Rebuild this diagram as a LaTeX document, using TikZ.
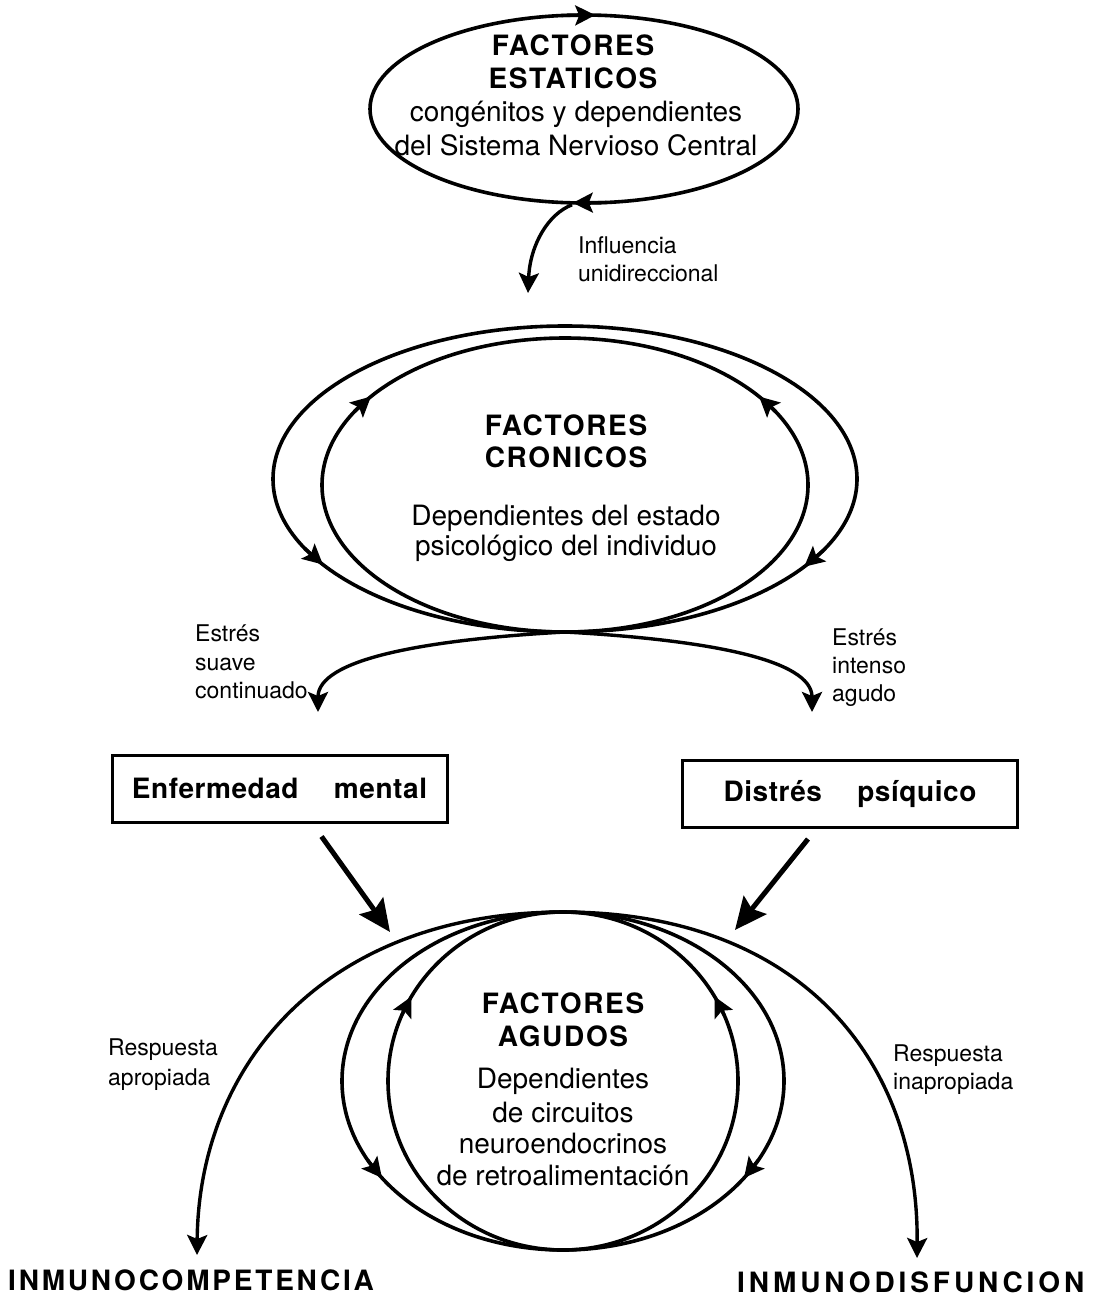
\documentclass[tikz,border=0pt]{standalone}
\usepackage{fontspec}
\setmainfont{TeX Gyre Heros}
\newfontfamily\capsfont{TeX Gyre Heros}[LetterSpace=6]
\newfontfamily\boxfont{TeX Gyre Heros}[LetterSpace=2]
\newfontfamily\widecaps{TeX Gyre Heros}[LetterSpace=10]
\newfontfamily\widercaps{TeX Gyre Heros}[LetterSpace=14]
\usetikzlibrary{arrows.meta,shapes.geometric}

% arrow head sitting on an ellipse (cx, cy, rx, ry, from angle, to angle)
\newcommand{\ellhead}[6]{%
  \draw[headed, line width=3.4pt] plot[domain=#5:#6, samples=2]
    ({#1+#3*cos(\x)},{#2-#4*sin(\x)});}

\begin{document}
\begin{tikzpicture}[x=1pt, y=-1pt,
  loopline/.style={line width=3.6pt},
  arcline/.style={line width=3.4pt},
  headed/.style={-{Stealth[length=20pt,width=20pt,inset=4pt]}},
  bighead/.style={line width=5pt, -{Stealth[length=32pt,width=29pt,inset=5pt]}},
  body/.style={font=\fontsize{28}{33}\selectfont, inner sep=0pt, anchor=base},
  title/.style={font=\fontsize{28}{33}\selectfont\capsfont\bfseries, inner sep=0pt, anchor=base},
  lbl/.style={font=\fontsize{23}{28}\selectfont, inner sep=0pt, anchor=base west},
  box/.style={draw, line width=3pt, minimum width=335pt, minimum height=67pt,
              inner sep=0pt, font=\fontsize{28}{33}\selectfont\boxfont\bfseries},
  outcome/.style={font=\fontsize{28}{33}\selectfont\bfseries, inner sep=0pt, anchor=base west}
]
\fill[white] (0,0) rectangle (1099,1301);
\useasboundingbox (0,0) rectangle (1099,1301);

% ---- static factors ----
\node[draw, ellipse, loopline, minimum width=428pt, minimum height=188pt, inner sep=0pt]
  (estaticos) at (584,109) {};
\ellhead{584}{109}{214}{94}{96}{87}
\ellhead{584}{109}{214}{94}{276}{267}
\node[title] (t1) at (573,55) {FACTORES};
\node[title] (t2) at (573,88) {ESTATICOS};
\node[body] (t3) at (576,121) {congénitos y dependientes};
\node[body] (t4) at (576,155) {del Sistema Nervioso Central};

\coordinate (infEnd) at (528,293);
\draw[arcline, headed] ([xshift=-12pt]estaticos.south) .. controls (548,214) and (530,245) .. (infEnd);
\node[lbl] (inf1) at (578,253) {Influencia};
\node[lbl] (inf2) at (578,281) {unidireccional};

% ---- chronic factors ----
\draw[loopline] (565,479) ellipse [x radius=292pt, y radius=153pt];
\draw[loopline] (565,485) ellipse [x radius=243pt, y radius=147pt];
\ellhead{565}{479}{292}{153}{207}{214}
\ellhead{565}{479}{292}{153}{332}{325}
\ellhead{565}{485}{243}{147}{150}{143}
\ellhead{565}{485}{243}{147}{30}{37}
\node[title] (c1) at (566,435) {FACTORES};
\node[title] (c2) at (566,467) {CRONICOS};
\node[body] (c3) at (566,525) {Dependientes del estado};
\node[body] (c4) at (566,555) {psicológico del individuo};

\coordinate (cross) at (565,632);
\coordinate (estL) at (318,712);
\coordinate (estR) at (812,712);
\draw[arcline, headed] (cross) .. controls (420,640) and (318,660) .. (estL);
\draw[arcline, headed] (cross) .. controls (710,640) and (812,660) .. (estR);
\node[lbl] (e1) at (195,641) {Estrés};
\node[lbl] (e2) at (195,670) {suave};
\node[lbl] (e3) at (195,698) {continuado};
\node[lbl] (e4) at (832,645) {Estrés};
\node[lbl] (e5) at (832,673) {intenso};
\node[lbl] (e6) at (832,701) {agudo};

% ---- boxes ----
\node[box] (enf) at (279.5,788.5) {Enfermedad\hspace{27pt} mental};
\node[box] (dis) at (850,794) {Distrés\hspace{27pt} psíquico};
\coordinate (enfTip) at (390,932);
\coordinate (disTip) at (735,930);
\draw[bighead] ([xshift=42pt,yshift=-13pt]enf.south) -- (enfTip);
\draw[bighead] ([xshift=-42pt,yshift=-10pt]dis.south) -- (disTip);

% ---- acute factors ----
\coordinate (apex) at (563,912);
\coordinate (compTip) at (197,1255);
\coordinate (disfTip) at (917,1258);
\draw[arcline, headed] (apex) .. controls (330,912) and (199,1060) .. (compTip);
\draw[arcline, headed] (apex) .. controls (800,912) and (919,1060) .. (disfTip);
\draw[loopline] (563,1081) ellipse [x radius=221pt, y radius=169pt];
\draw[loopline] (563,1081) ellipse [x radius=175pt, y radius=169pt];
\ellhead{563}{1081}{221}{169}{208}{215}
\ellhead{563}{1081}{221}{169}{332}{325}
\ellhead{563}{1081}{175}{169}{157}{150}
\ellhead{563}{1081}{175}{169}{23}{30}
\node[title] (a1) at (563,1013) {FACTORES};
\node[title] (a2) at (563,1046) {AGUDOS};
\node[body] (a3) at (563,1088) {Dependientes};
\node[body] (a4) at (563,1122) {de circuitos};
\node[body] (a5) at (563,1153) {neuroendocrinos};
\node[body] (a6) at (563,1185) {de retroalimentación};

\node[lbl] (r1) at (108,1055) {Respuesta};
\node[lbl] (r2) at (108,1085) {apropiada};
\node[lbl] (r3) at (893,1061) {Respuesta};
\node[lbl] (r4) at (893,1089) {inapropiada};

\node[outcome] (o1) at (8,1290) {\widecaps INMUNOCOMPETENCIA};
\node[outcome] (o2) at (737,1292) {\widercaps INMUNODISFUNCION};
\end{tikzpicture}
\end{document}
